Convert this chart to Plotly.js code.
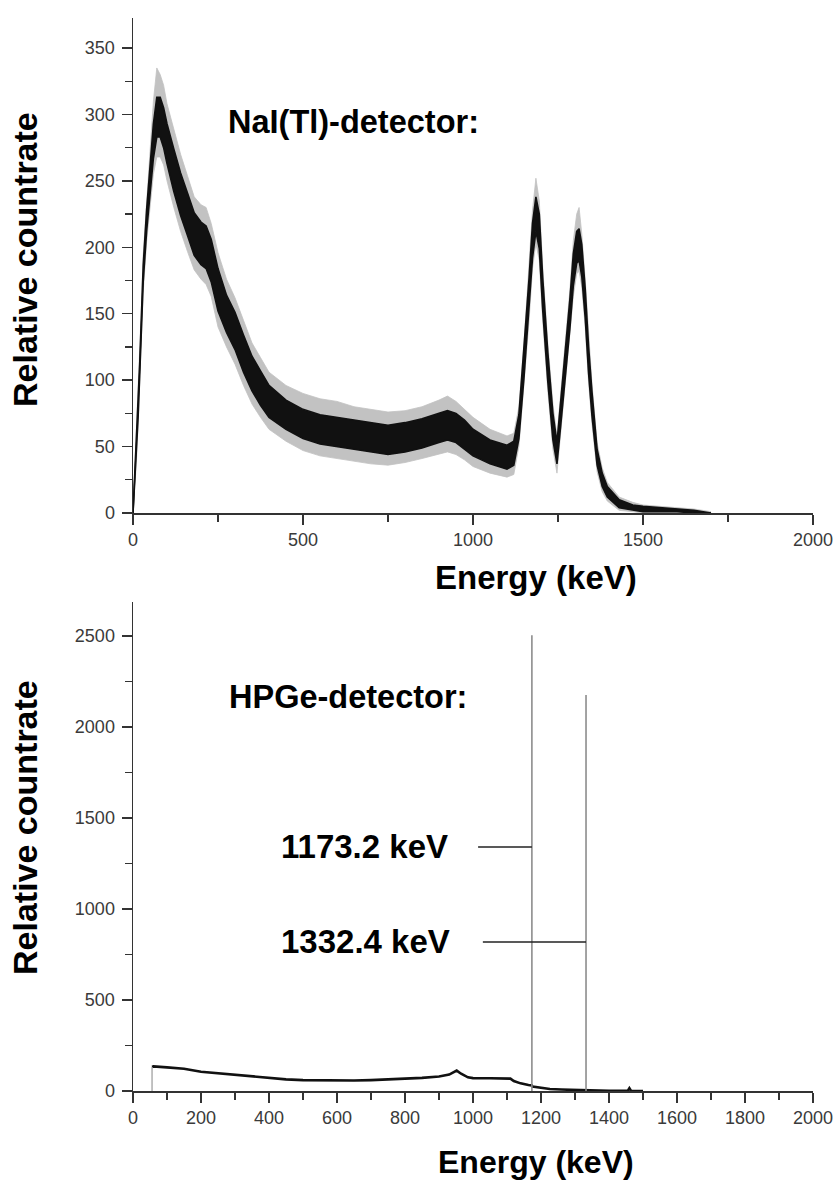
<!DOCTYPE html>
<html>
<head>
<meta charset="utf-8">
<script src="https://cdn.plot.ly/plotly-3.0.1.min.js"></script>
<style>
  html, body { margin: 0; padding: 0; background: #fff; }
  #chart { width: 838px; height: 1182px; }
</style>
</head>
<body>
<div id="chart"></div>
<script>
// ---------- NaI(Tl) spectrum (top) : energies and band envelopes ----------
var naiEnergy = [0, 5, 10, 15, 20, 25, 30, 40, 50, 60, 70, 80, 90, 100, 120, 140, 160, 180, 200, 215, 230, 250, 275, 300, 325, 350, 375, 400, 450, 500, 550, 600, 650, 700, 750, 800, 850, 900, 925, 950, 975, 1000, 1050, 1100, 1120, 1135, 1150, 1165, 1175, 1185, 1195, 1205, 1220, 1235, 1247, 1258, 1270, 1285, 1295, 1305, 1312, 1320, 1330, 1340, 1350, 1365, 1380, 1395, 1430, 1470, 1500, 1550, 1600, 1650, 1700];
// dense core of the noisy trace (lower / upper edge)
var naiCoreLow  = [0, 22, 42, 72, 106, 140, 174, 212, 240, 267, 283, 283, 275, 263, 242, 224, 209, 194, 187, 184, 174, 152, 136, 123, 106, 92, 81, 72, 63, 56, 52, 50, 48, 46, 44, 46, 49, 53, 55, 53, 48, 43, 37, 33, 36, 56, 102, 153, 192, 212, 199, 153, 99, 55, 37, 66, 98, 139, 171, 188, 190, 178, 147, 105, 73, 36, 20, 12, 4, 2, 1, 1, 1, 0, 0];
var naiCoreHigh = [0, 28, 48, 78, 114, 150, 186, 228, 260, 293, 313, 313, 305, 293, 274, 256, 241, 226, 219, 216, 206, 184, 164, 151, 134, 118, 107, 96, 85, 78, 74, 72, 70, 68, 66, 68, 71, 75, 77, 75, 70, 63, 55, 51, 54, 74, 122, 177, 218, 238, 225, 177, 121, 75, 53, 84, 118, 161, 195, 212, 214, 202, 169, 125, 91, 48, 30, 20, 10, 6, 5, 4, 3, 2, 0];
// sparse noise spikes around the core (lower / upper reach)
var naiSpikeLow  = [0, 18, 38, 68, 100, 133, 166, 204, 230, 255, 268, 268, 262, 250, 230, 212, 197, 183, 176, 172, 163, 140, 125, 112, 96, 82, 72, 63, 54, 47, 43, 41, 39, 37, 36, 38, 41, 44, 46, 44, 40, 35, 30, 27, 29, 50, 95, 145, 184, 203, 190, 145, 92, 48, 30, 60, 92, 132, 163, 180, 182, 170, 140, 98, 67, 31, 16, 9, 2, 1, 0, 0, 0, 0, 0];
var naiSpikeHigh = [0, 32, 52, 82, 120, 157, 194, 236, 272, 310, 335, 330, 322, 308, 288, 270, 254, 238, 232, 230, 218, 196, 176, 162, 145, 128, 117, 106, 96, 90, 86, 84, 80, 78, 76, 77, 80, 85, 88, 84, 78, 72, 63, 58, 60, 80, 128, 185, 228, 252, 235, 185, 128, 82, 58, 90, 124, 168, 205, 225, 230, 210, 176, 132, 97, 53, 34, 23, 12, 8, 6, 5, 4, 3, 1];

// ---------- HPGe spectrum (bottom) ----------
var hpgeEnergy = [56, 60, 100, 150, 200, 250, 300, 350, 400, 450, 500, 550, 600, 650, 700, 750, 800, 850, 900, 930, 952, 965, 985, 1000, 1050, 1100, 1110, 1120, 1140, 1163, 1173.2, 1175, 1187, 1226, 1260, 1314, 1332.4, 1336, 1400, 1455, 1460, 1465, 1500];
var hpgeCounts = [132, 135, 130, 122, 106, 97, 88, 79, 70, 64, 60, 58, 57, 58, 60, 63, 66, 72, 80, 90, 112, 95, 75, 71, 70, 71, 68, 55, 42, 33, 30, 24, 20, 11, 8, 5, 4, 1, 1, 1, 16, 1, 0];
var hpgeStartEnergy = [56, 56];
var hpgeStartCounts = [0, 132];
var peakEnergy = [1173.2, 1332.4];
var peakTop = [2505, 2176];
var peakLabels = ["1173.2 keV", "1332.4 keV"];
var peakLabelLevel = [1341, 819];
var peakLeaderStart = [1015, 1029];
var peakLabelEnergy = 430;

// ---------- axis ticks ----------
var naiXTicks = [0, 500, 1000, 1500, 2000];
var naiYTicks = [0, 50, 100, 150, 200, 250, 300, 350];
var hpgeXTicks = [0, 200, 400, 600, 800, 1000, 1200, 1400, 1600, 1800, 2000];
var hpgeYTicks = [0, 500, 1000, 1500, 2000, 2500];

var W = 838, H = 1182;
function px(x) { return x / W; }
function py(y) { return 1 - y / H; }

var traces = [];
// top: spike halo
traces.push({x: naiEnergy, y: naiSpikeLow, xaxis: 'x', yaxis: 'y', mode: 'lines', line: {color: '#c2c2c2', width: 0.8}, hoverinfo: 'skip'});
traces.push({x: naiEnergy, y: naiSpikeHigh, xaxis: 'x', yaxis: 'y', mode: 'lines', line: {color: '#c2c2c2', width: 0.8}, fill: 'tonexty', fillcolor: '#c2c2c2', hoverinfo: 'skip'});
// top: dense core
traces.push({x: naiEnergy, y: naiCoreLow, xaxis: 'x', yaxis: 'y', mode: 'lines', line: {color: '#111', width: 1.6}, hoverinfo: 'skip'});
traces.push({x: naiEnergy, y: naiCoreHigh, xaxis: 'x', yaxis: 'y', mode: 'lines', line: {color: '#111', width: 1.6}, fill: 'tonexty', fillcolor: '#111', hoverinfo: 'skip'});

// bottom: continuum
traces.push({x: hpgeEnergy, y: hpgeCounts, xaxis: 'x2', yaxis: 'y2', mode: 'lines', line: {color: '#111', width: 2.6}, hoverinfo: 'skip'});
traces.push({x: hpgeStartEnergy, y: hpgeStartCounts, xaxis: 'x2', yaxis: 'y2', mode: 'lines', line: {color: '#999', width: 1.2}, hoverinfo: 'skip'});
// bottom: photopeaks and label leaders
peakEnergy.forEach(function (e, i) {
  traces.push({x: [e, e], y: [0, peakTop[i]], xaxis: 'x2', yaxis: 'y2', mode: 'lines', line: {color: '#8c8c8c', width: 1.6}, hoverinfo: 'skip'});
  traces.push({x: [peakLeaderStart[i], e], y: [peakLabelLevel[i], peakLabelLevel[i]], xaxis: 'x2', yaxis: 'y2', mode: 'lines', line: {color: '#222', width: 1.4}, hoverinfo: 'skip'});
});

var tickFont = {family: 'Liberation Sans, Arial, sans-serif', size: 18, color: '#3a3a3a'};
var boldFont = function (s) { return {family: 'Liberation Sans, Arial, sans-serif', size: s, color: '#000', weight: 'bold'}; };

function axisBase(extra) {
  var a = {
    showline: true, linecolor: '#333', linewidth: 1.5,
    ticks: 'outside', ticklen: 10, tickwidth: 1.5, tickcolor: '#333',
    showgrid: false, zeroline: false, tickfont: tickFont, fixedrange: true
  };
  for (var k in extra) a[k] = extra[k];
  return a;
}

var annotations = [
  {text: '<b>NaI(Tl)-detector:</b>', xref: 'paper', yref: 'paper', x: px(226), y: py(122), xanchor: 'left', yanchor: 'middle', showarrow: false, font: boldFont(32.5)},
  {text: '<b>HPGe-detector:</b>', xref: 'paper', yref: 'paper', x: px(227), y: py(697), xanchor: 'left', yanchor: 'middle', showarrow: false, font: boldFont(32.5)},
  {text: '<b>Energy (keV)</b>', xref: 'paper', yref: 'paper', x: px(536), y: py(577), xanchor: 'center', yanchor: 'middle', showarrow: false, font: boldFont(33)},
  {text: '<b>Energy (keV)</b>', xref: 'paper', yref: 'paper', x: px(536), y: py(1162), xanchor: 'center', yanchor: 'middle', showarrow: false, font: boldFont(32)},
  {text: '<b>Relative countrate</b>', xref: 'paper', yref: 'paper', x: px(25), y: py(260), xanchor: 'center', yanchor: 'middle', textangle: -90, showarrow: false, font: boldFont(34)},
  {text: '<b>Relative countrate</b>', xref: 'paper', yref: 'paper', x: px(25), y: py(828), xanchor: 'center', yanchor: 'middle', textangle: -90, showarrow: false, font: boldFont(34)}
];
peakLabels.forEach(function (t, i) {
  annotations.push({text: '<b>' + t + '</b>', xref: 'x2', yref: 'y2', x: peakLabelEnergy, y: peakLabelLevel[i], xanchor: 'left', yanchor: 'middle', showarrow: false, font: boldFont(33)});
});

var layout = {
  width: W, height: H,
  margin: {l: 0, r: 0, t: 0, b: 0},
  paper_bgcolor: '#fff', plot_bgcolor: '#fff',
  showlegend: false,
  xaxis: axisBase({domain: [px(133), px(813)], range: [0, 2000], tickvals: naiXTicks, anchor: 'y',
    minor: {dtick: 250, tick0: 0, ticklen: 7, tickwidth: 1.3, tickcolor: '#333', ticks: 'outside'}}),
  yaxis: axisBase({domain: [py(513), py(18)], range: [0, 372.6], tickvals: naiYTicks, anchor: 'x', ticklabelstandoff: 3,
    minor: {dtick: 25, tick0: 0, ticklen: 7, tickwidth: 1.3, tickcolor: '#333', ticks: 'outside'}}),
  xaxis2: axisBase({domain: [px(133), px(813)], range: [0, 2000], tickvals: hpgeXTicks, anchor: 'y2',
    minor: {dtick: 100, tick0: 0, ticklen: 7, tickwidth: 1.3, tickcolor: '#333', ticks: 'outside'}}),
  yaxis2: axisBase({domain: [py(1091), py(601.5)], range: [0, 2690], tickvals: hpgeYTicks, anchor: 'x2', ticklabelstandoff: 3,
    minor: {dtick: 250, tick0: 0, ticklen: 7, tickwidth: 1.3, tickcolor: '#333', ticks: 'outside'}}),
  annotations: annotations
};

Plotly.newPlot('chart', traces, layout, {displayModeBar: false, staticPlot: true});
</script>
</body>
</html>
